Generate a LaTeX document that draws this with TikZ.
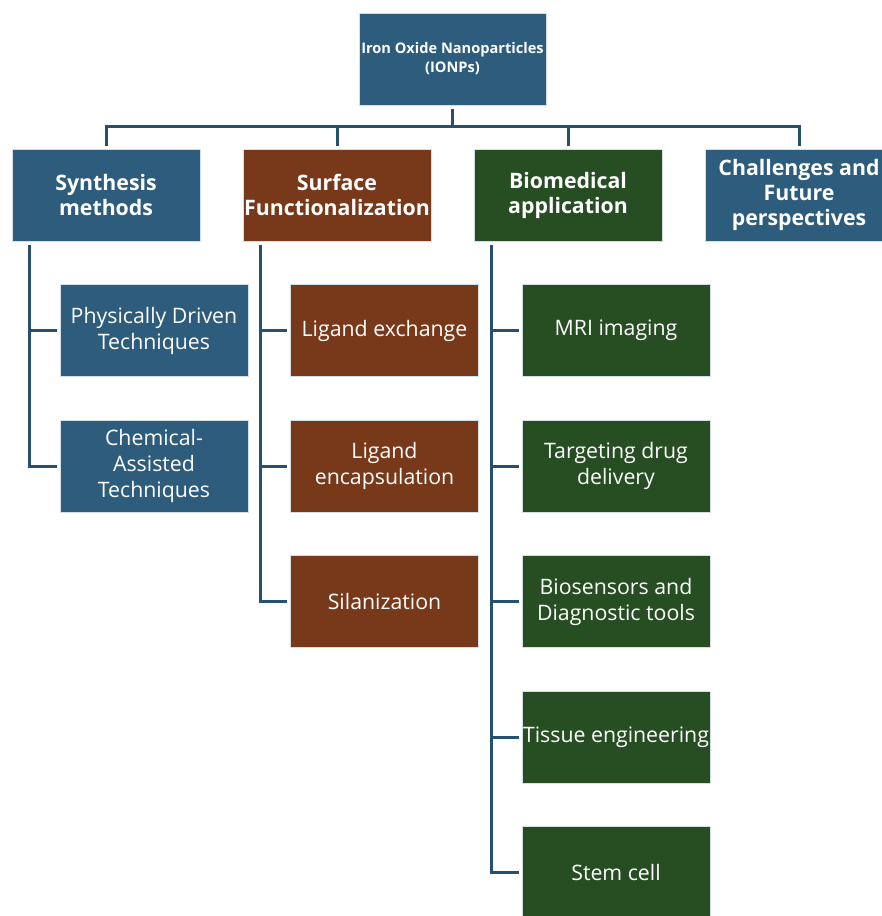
\documentclass[tikz,border=0pt]{standalone}
\usepackage{fontspec}
\setmainfont{Open Sans}
\definecolor{ionblue}{RGB}{46,92,124}
\definecolor{ionbrown}{RGB}{120,57,27}
\definecolor{iongreen}{RGB}{39,78,35}
\definecolor{ionline}{RGB}{38,80,110}
\begin{document}
\begin{tikzpicture}[x=1pt, y=-1pt,
  box/.style={rectangle, draw=white!80!ionblue, line width=0.6pt, text=white, minimum width=188pt, minimum height=92pt, inner sep=1pt, align=center, font=\fontsize{21.3}{26}\selectfont},
  head/.style={box, font=\fontsize{21.3}{25}\selectfont\bfseries},
  link/.style={draw=ionline, line width=3pt, shorten <=4pt, shorten >=3pt}]
\useasboundingbox (0,0) rectangle (882,916);
\node[box, fill=ionblue, minimum width=187pt, font=\fontsize{14.6}{19}\selectfont\bfseries] (ionp) at (452.5,59){Iron Oxide Nanoparticles\\(IONPs)};
\node[head, fill=ionblue] (syn) at (106,195){Synthesis\\methods};
\node[head, fill=ionbrown] (srf) at (337,195){Surface\\Functionalization};
\node[head, fill=iongreen] (bio) at (568,195){Biomedical\\application};
\node[head, fill=ionblue] (chl) at (799,195){Challenges and\\Future\\perspectives};
\draw[link](ionp.south) -- ++(0,21) -| (syn.north);
\draw[link](ionp.south) -- ++(0,21) -| (srf.north);
\draw[link](ionp.south) -- ++(0,21) -| (bio.north);
\draw[link](ionp.south) -- ++(0,21) -| (chl.north);
\node[box, fill=ionblue] (syn1) at (154,330.5){Physically Driven\\Techniques};
\node[box, fill=ionblue] (syn2) at (154,466){Chemical-\\Assisted\\Techniques};
\draw[link]([xshift=18pt]syn.south west) |- (syn1.west);
\draw[link]([xshift=18pt]syn.south west) |- (syn2.west);
\node[box, fill=ionbrown] (srf1) at (384.5,330.5){Ligand exchange};
\node[box, fill=ionbrown] (srf2) at (384.5,466){Ligand\\encapsulation};
\node[box, fill=ionbrown] (srf3) at (384.5,601.5){Silanization};
\draw[link]([xshift=18pt]srf.south west) |- (srf1.west);
\draw[link]([xshift=18pt]srf.south west) |- (srf2.west);
\draw[link]([xshift=18pt]srf.south west) |- (srf3.west);
\node[box, fill=iongreen] (bio1) at (616,330.5){MRI imaging};
\node[box, fill=iongreen] (bio2) at (616,466){Targeting drug\\delivery};
\node[box, fill=iongreen] (bio3) at (616,601.5){Biosensors and\\Diagnostic tools};
\node[box, fill=iongreen] (bio4) at (616,737){Tissue engineering};
\node[box, fill=iongreen] (bio5) at (616,872.5){Stem cell};
\draw[link]([xshift=18pt]bio.south west) |- (bio1.west);
\draw[link]([xshift=18pt]bio.south west) |- (bio2.west);
\draw[link]([xshift=18pt]bio.south west) |- (bio3.west);
\draw[link]([xshift=18pt]bio.south west) |- (bio4.west);
\draw[link]([xshift=18pt]bio.south west) |- (bio5.west);
\end{tikzpicture}
\end{document}
